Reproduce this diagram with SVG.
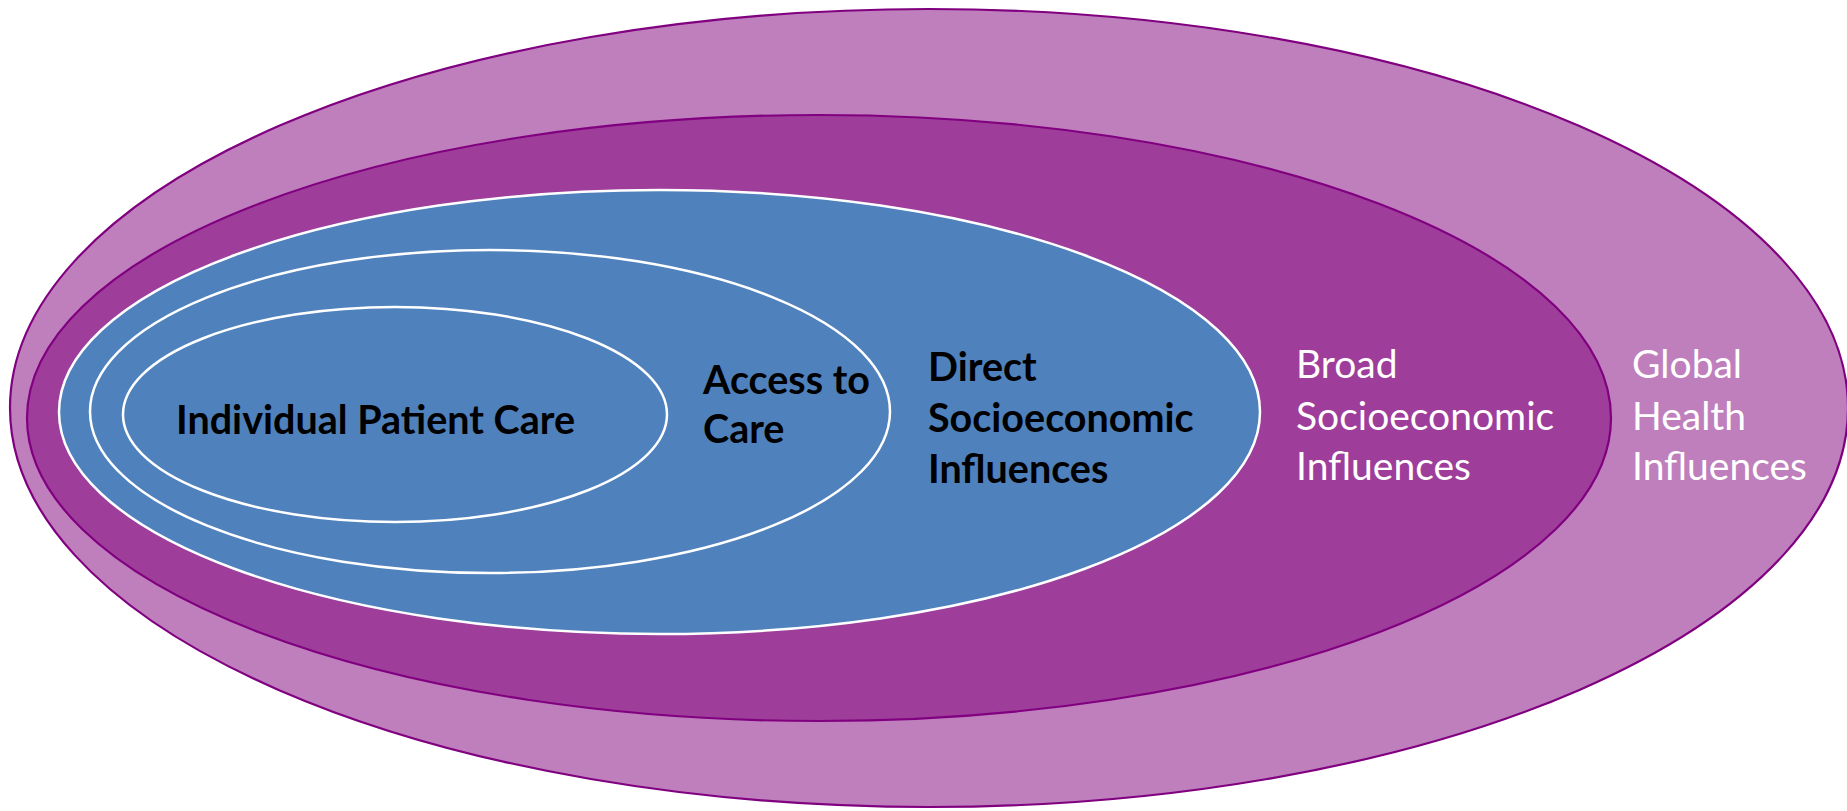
<svg xmlns="http://www.w3.org/2000/svg" width="1847" height="811" viewBox="0 0 1847 811">
<style>
.purple{stroke:#800080;stroke-width:2.2}
.blue{fill:#4F81BD;stroke:#FFFFFF;stroke-width:2.5}
.lbl{font-family:Lato,"Liberation Sans",sans-serif;font-size:39px}
.dark{fill:#000000;font-weight:bold;font-size:39.5px}
.light{fill:#FFFFFF}
</style>
<rect x="0" y="0" width="1847" height="811" fill="#FFFFFF"/>
<g id="global">
<ellipse class="purple" cx="929" cy="408" rx="919" ry="399" fill="#BE7FBC"/>
<text class="lbl light" x="1632" y="378">Global</text>
<text class="lbl light" x="1632" y="430">Health</text>
<text class="lbl light" x="1632" y="480">Influences</text>
</g>
<g id="broad">
<ellipse class="purple" cx="819" cy="418" rx="792" ry="303" fill="#9E3D9A"/>
<text class="lbl light" x="1296" y="378">Broad</text>
<text class="lbl light" x="1296" y="430">Socioeconomic</text>
<text class="lbl light" x="1296" y="480">Influences</text>
</g>
<g id="direct">
<ellipse class="blue" cx="659.5" cy="412" rx="600.5" ry="222"/>
<text class="lbl dark" x="928" y="381">Direct</text>
<text class="lbl dark" x="928" y="432">Socioeconomic</text>
<text class="lbl dark" x="928" y="483">Influences</text>
</g>
<g id="access">
<ellipse class="blue" cx="490" cy="411.5" rx="400" ry="161.5"/>
<text class="lbl dark" x="703" y="394">Access to</text>
<text class="lbl dark" x="703" y="443">Care</text>
</g>
<g id="individual">
<ellipse class="blue" cx="395" cy="414.5" rx="272" ry="107.5"/>
<text class="lbl dark" x="176" y="434">Individual Patient Care</text>
</g>
<g id="connectors"/>
</svg>
